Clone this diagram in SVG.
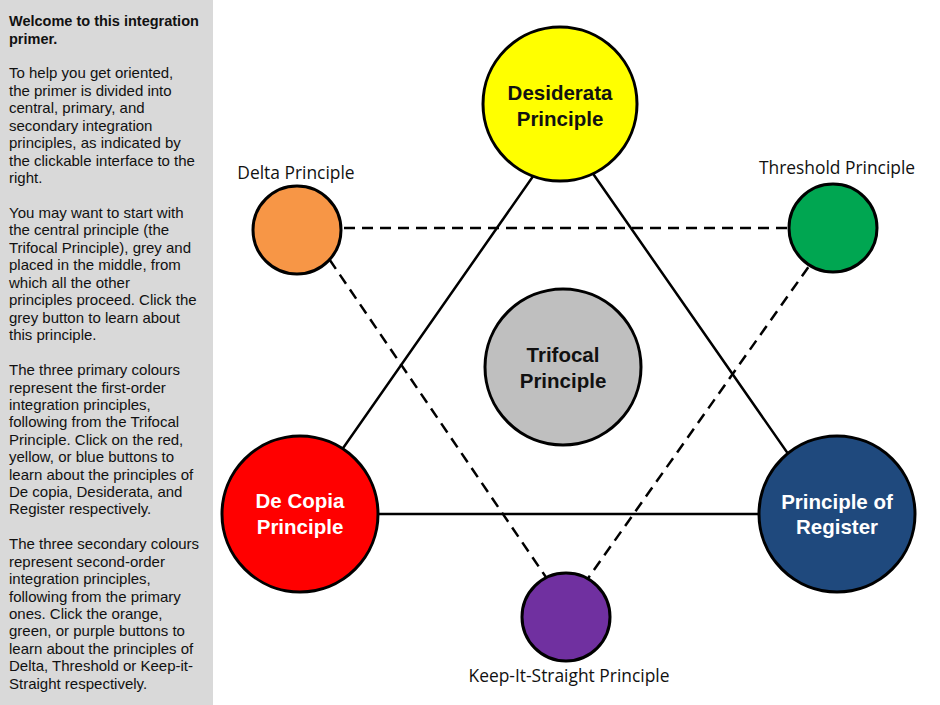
<svg xmlns="http://www.w3.org/2000/svg" width="940" height="705" viewBox="0 0 940 705">
  <style>
    .panel-text { font-family: "Liberation Sans", Arial, sans-serif; font-size: 15px; fill: #111; }
    .panel-bold { font-weight: bold; font-size: 14.5px; }
    .node-circle { stroke: #000; stroke-width: 3; }
    .node-label { font-family: "Liberation Sans", Arial, sans-serif; font-size: 20.5px; font-weight: bold; text-anchor: middle; }
    .side-label { font-family: "Open Sans", "Liberation Sans", Arial, sans-serif; font-size: 17.4px; text-anchor: middle; fill: #111; }
    .solid { stroke: #000; stroke-width: 2.5; fill: none; }
    .dashed { stroke: #000; stroke-width: 2.5; fill: none; stroke-dasharray: 11 7; }
  </style>

  <rect width="940" height="705" fill="#ffffff"/>

  <!-- introduction sidebar -->
  <g id="sidebar">
    <rect x="0" y="0" width="213" height="705" fill="#d9d9d9"/>
    <text class="panel-text" x="9">
      <tspan class="panel-bold" x="9" y="26">Welcome to this integration</tspan>
      <tspan class="panel-bold" x="9" y="44">primer.</tspan>
      <tspan x="9" y="78">To help you get oriented,</tspan>
      <tspan x="9" y="96">the primer is divided into</tspan>
      <tspan x="9" y="113">central, primary, and</tspan>
      <tspan x="9" y="131">secondary integration</tspan>
      <tspan x="9" y="148">principles, as indicated by</tspan>
      <tspan x="9" y="166">the clickable interface to the</tspan>
      <tspan x="9" y="183">right.</tspan>
      <tspan x="9" y="218">You may want to start with</tspan>
      <tspan x="9" y="235">the central principle (the</tspan>
      <tspan x="9" y="253">Trifocal Principle), grey and</tspan>
      <tspan x="9" y="270">placed in the middle, from</tspan>
      <tspan x="9" y="288">which all the other</tspan>
      <tspan x="9" y="305">principles proceed. Click the</tspan>
      <tspan x="9" y="323">grey button to learn about</tspan>
      <tspan x="9" y="340">this principle.</tspan>
      <tspan x="9" y="375">The three primary colours</tspan>
      <tspan x="9" y="393">represent the first-order</tspan>
      <tspan x="9" y="410">integration principles,</tspan>
      <tspan x="9" y="427">following from the Trifocal</tspan>
      <tspan x="9" y="445">Principle. Click on the red,</tspan>
      <tspan x="9" y="462">yellow, or blue buttons to</tspan>
      <tspan x="9" y="480">learn about the principles of</tspan>
      <tspan x="9" y="497">De copia, Desiderata, and</tspan>
      <tspan x="9" y="514">Register respectively.</tspan>
      <tspan x="9" y="549">The three secondary colours</tspan>
      <tspan x="9" y="567">represent second-order</tspan>
      <tspan x="9" y="584">integration principles,</tspan>
      <tspan x="9" y="602">following from the primary</tspan>
      <tspan x="9" y="619">ones. Click the orange,</tspan>
      <tspan x="9" y="636">green, or purple buttons to</tspan>
      <tspan x="9" y="654">learn about the principles of</tspan>
      <tspan x="9" y="671">Delta, Threshold or Keep-it-</tspan>
      <tspan x="9" y="689">Straight respectively.</tspan>
    </text>
  </g>

  <!-- connectors: solid primary triangle, dashed secondary triangle -->
  <g id="connectors">
    <polygon class="solid" points="564,132 297,514 830,514"/>
    <polygon class="dashed" points="308,228 836,228 567,608"/>
  </g>

  <g id="desiderata">
    <circle class="node-circle" cx="560" cy="104" r="77" fill="#ffff00"/>
    <text class="node-label" x="560" y="100" fill="#111">Desiderata</text>
    <text class="node-label" x="560" y="126" fill="#111">Principle</text>
  </g>

  <g id="trifocal">
    <circle class="node-circle" cx="563" cy="367" r="78" fill="#bfbfbf"/>
    <text class="node-label" x="563" y="362" fill="#111">Trifocal</text>
    <text class="node-label" x="563" y="388" fill="#111">Principle</text>
  </g>

  <g id="decopia">
    <circle class="node-circle" cx="300" cy="514" r="78" fill="#ff0000"/>
    <text class="node-label" x="300" y="508" fill="#ffffff">De Copia</text>
    <text class="node-label" x="300" y="534" fill="#ffffff">Principle</text>
  </g>

  <g id="register">
    <circle class="node-circle" cx="837" cy="514" r="78" fill="#1f497d"/>
    <text class="node-label" x="837" y="509" fill="#ffffff">Principle of</text>
    <text class="node-label" x="837" y="534" fill="#ffffff">Register</text>
  </g>

  <g id="delta">
    <circle class="node-circle" cx="297" cy="230" r="44" fill="#f79646"/>
    <text class="side-label" x="296" y="179">Delta Principle</text>
  </g>

  <g id="threshold">
    <circle class="node-circle" cx="833" cy="228" r="44" fill="#00a651"/>
    <text class="side-label" x="837" y="174">Threshold Principle</text>
  </g>

  <g id="keep-it-straight">
    <circle class="node-circle" cx="566" cy="617" r="44" fill="#7030a0"/>
    <text class="side-label" x="569" y="682">Keep-It-Straight Principle</text>
  </g>
</svg>
